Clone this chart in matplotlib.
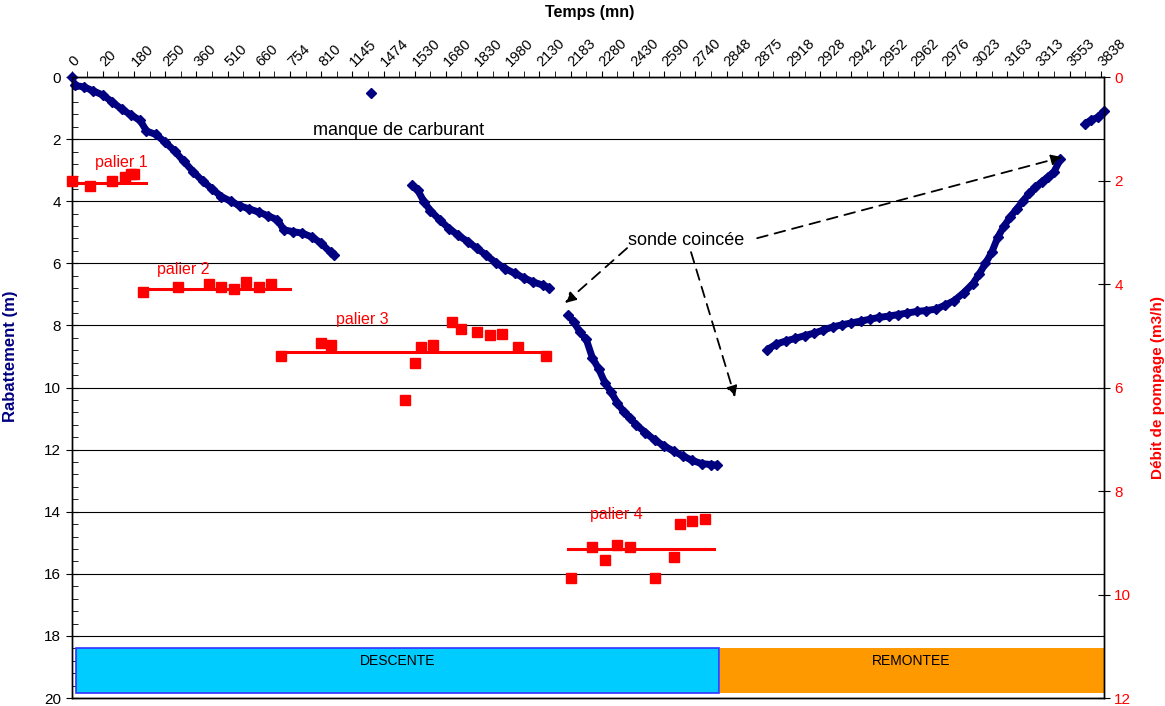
import numpy as np
import matplotlib.pyplot as plt
from matplotlib.patches import Rectangle
from matplotlib.ticker import MultipleLocator

plt.rcParams['font.family'] = ['Liberation Sans', 'DejaVu Sans']

## Data (x = category index, labels shown every 10 categories)

temps_labels = [0, 20, 180, 250, 360, 510, 660, 754, 810, 1145, 1474, 1530, 1680, 1830,
                1980, 2130, 2183, 2280, 2430, 2590, 2740, 2848, 2875, 2918, 2928, 2942,
                2952, 2962, 2976, 3023, 3163, 3313, 3553, 3838]
n_cat = 332

# Rabattement (m) - descente
rab0_c = [0, 96]
rab0 = [0.0, 0.52]
rab1_c = [1, 4, 7, 10, 13, 16, 19, 22, 24, 27, 30, 33, 36, 39, 42, 45, 48, 51, 54, 57,
          60, 63, 66, 68, 71, 74, 77, 80, 83, 84]
rab1 = [0.27, 0.32, 0.45, 0.58, 0.80, 1.03, 1.22, 1.40, 1.74, 1.85, 2.1, 2.38, 2.72, 3.05,
        3.35, 3.6, 3.85, 4.0, 4.15, 4.25, 4.35, 4.47, 4.6, 4.92, 4.98, 5.03, 5.15, 5.35,
        5.65, 5.72]
rab2_c = [109, 111, 113, 115, 118, 121, 124, 127, 130, 133, 136, 139, 142, 145, 148, 151, 153]
rab2 = [3.48, 3.65, 4.02, 4.3, 4.6, 4.88, 5.1, 5.3, 5.52, 5.74, 5.98, 6.17, 6.32, 6.47,
        6.6, 6.7, 6.78]
rab3_c = [159, 161, 163, 165, 167, 169, 171, 173, 175, 177, 179, 181, 184, 187, 190, 193,
          196, 199, 202, 205, 207]
rab3 = [7.65, 7.88, 8.22, 8.45, 9.05, 9.4, 9.85, 10.15, 10.5, 10.78, 10.98, 11.2, 11.45,
        11.7, 11.88, 12.05, 12.2, 12.35, 12.45, 12.48, 12.5]
# Rabattement (m) - remontee
rab4_c = [223, 226, 229, 232, 235, 238, 241, 244, 247, 250, 253, 256, 259, 262, 265, 268,
          271, 274, 277, 280, 283, 286, 289, 291, 293, 295, 297, 299, 301, 303, 305, 307,
          309, 311, 313, 315, 317]
rab4 = [8.78, 8.6, 8.5, 8.42, 8.33, 8.25, 8.15, 8.05, 7.98, 7.92, 7.86, 7.8, 7.74, 7.7,
        7.65, 7.6, 7.55, 7.52, 7.48, 7.35, 7.2, 6.95, 6.65, 6.35, 6.0, 5.65, 5.15, 4.8, 4.5,
        4.25, 4.0, 3.75, 3.55, 3.38, 3.22, 3.05, 2.65]
rab5_c = [325, 327, 329, 331]
rab5 = [1.5, 1.38, 1.3, 1.1]

# Debit de pompage (m3/h)
deb_c = [0, 6, 13, 17, 19, 20,
         23, 34, 44, 48, 52, 56, 60, 64,
         67, 80, 83, 107, 110, 112, 116, 122, 125, 130, 134, 138, 143, 152,
         160, 167, 171, 175, 179, 187, 193, 195, 199, 203]
deb = [2.0, 2.11, 2.0, 1.93, 1.88, 1.88,
       4.15, 4.05, 4.0, 4.05, 4.1, 3.97, 4.05, 3.99,
       5.40, 5.13, 5.17, 6.25, 5.53, 5.22, 5.18, 4.74, 4.86, 4.93, 4.99, 4.96, 5.21, 5.40,
       9.69, 9.09, 9.33, 9.04, 9.09, 9.69, 9.27, 8.64, 8.58, 8.54]

# Paliers (debit moyen)
pal_noms = ['palier 1', 'palier 2', 'palier 3', 'palier 4']
pal_debut = [0, 23, 67, 159]
pal_fin = [24, 70, 152, 206]
pal_debit = [2.05, 4.10, 5.31, 9.12]

## Plot

navy = '#000080'
red = '#FF0000'

fig = plt.figure(figsize=(11.65, 7.06), dpi=100)
ax = fig.add_axes([0.0615, 0.0113, 0.8861, 0.8796])
ax2 = ax.twinx()

for cc, vv in [(rab1_c, rab1), (rab2_c, rab2), (rab3_c, rab3), (rab4_c, rab4), (rab5_c, rab5)]:
    ax.plot(cc, vv, '-', color=navy, lw=5, solid_capstyle='butt', solid_joinstyle='miter',
            clip_on=False, zorder=3)
    ax.plot(cc, vv, 'D', color=navy, ms=4.8, clip_on=False, zorder=3)
ax.plot(rab0_c, rab0, 'D', color=navy, ms=5.5, clip_on=False, zorder=3)

ax.set_xlim(0, n_cat - 1)
ax.set_ylim(20, 0)
ax.xaxis.tick_top()
ax.set_xticks(np.arange(len(temps_labels)) * 10)
ax.set_xticklabels([str(t) for t in temps_labels], rotation=45, ha='left', va='center',
                   rotation_mode='anchor', fontsize=10.5)
ax.xaxis.set_minor_locator(MultipleLocator(5))
ax.tick_params(axis='x', which='both', direction='out', length=4)
ax.tick_params(axis='x', which='major', pad=5)
ax.set_yticks(np.arange(0, 21, 2))
ax.yaxis.set_minor_locator(MultipleLocator(0.4))
ax.tick_params(axis='y', which='major', direction='inout', length=8, labelsize=11)
ax.tick_params(axis='y', which='minor', direction='in', length=4)
ax.grid(axis='y', which='major', color='black', lw=0.8)
ax.set_axisbelow(True)

ax.xaxis.set_label_position('top')
ax.set_xlabel('Temps (mn)', fontweight='bold', fontsize=11.5)
ax.xaxis.set_label_coords(0.502, 1.097)
ax.set_ylabel('Rabattement (m)', fontweight='bold', fontsize=12, color=navy)
ax.yaxis.set_label_coords(-0.052, 0.55)

# debit (axe secondaire)
ax2.plot(deb_c, deb, 's', color=red, ms=7, clip_on=False, zorder=4)
for nom, a, b, q in zip(pal_noms, pal_debut, pal_fin, pal_debit):
    ax2.plot([a, b], [q, q], '-', color=red, lw=2.2, zorder=3)
ax2.set_ylim(12, 0)
ax2.set_yticks(np.arange(0, 13, 2))
ax2.tick_params(axis='y', direction='inout', length=8, labelsize=11, labelcolor=red)
ax2.set_ylabel('Débit de pompage (m3/h)', fontweight='bold', fontsize=11, color=red)
ax2.yaxis.set_label_coords(1.046, 0.5)

# etiquettes des paliers
pal_txt = [(95, 2.75), (157, 6.2), (336, 7.8), (590, 14.1)]
for nom, (px, ry) in zip(pal_noms, pal_txt):
    ax.text((px - 71.7) / 3.118, ry, nom, color=red, fontsize=11.5, ha='left', va='center')

# annotations
ax.text((313 - 71.7) / 3.118, 1.72, 'manque de carburant', fontsize=13, ha='left', va='center')
ax.text((628 - 71.7) / 3.118, 5.25, 'sonde coincée', fontsize=13, ha='left', va='center')
arrows = [((178.1, 5.51), (158.2, 7.28)),
          ((198.6, 5.64), (212.7, 10.31)),
          ((219.8, 5.19), (317.6, 2.58))]
for (x0, y0), (x1, y1) in arrows:
    ax.annotate('', xy=(x1, y1), xytext=(x0, y0),
                arrowprops=dict(arrowstyle='-|>', color='black', lw=1.3, ls=(0, (6, 4)),
                                mutation_scale=16, shrinkA=0, shrinkB=0))

# bandeaux descente / remontee
ax.add_patch(Rectangle((1.4, 18.39), 206.2, 1.45, facecolor='#00CCFF', edgecolor='#3333FF',
                       lw=1.2, zorder=2))
ax.add_patch(Rectangle((207.8, 18.39), 123.2, 1.45, facecolor='#FF9900', edgecolor='none',
                       zorder=2))
ax.text(104.5, 18.8, 'DESCENTE', fontsize=10, ha='center', va='center')
ax.text(269.2, 18.8, 'REMONTEE', fontsize=10, ha='center', va='center')

for a in (ax, ax2):
    for s in a.spines.values():
        s.set_color('black')
        s.set_linewidth(1)

fig.savefig('out.png', dpi=100)
